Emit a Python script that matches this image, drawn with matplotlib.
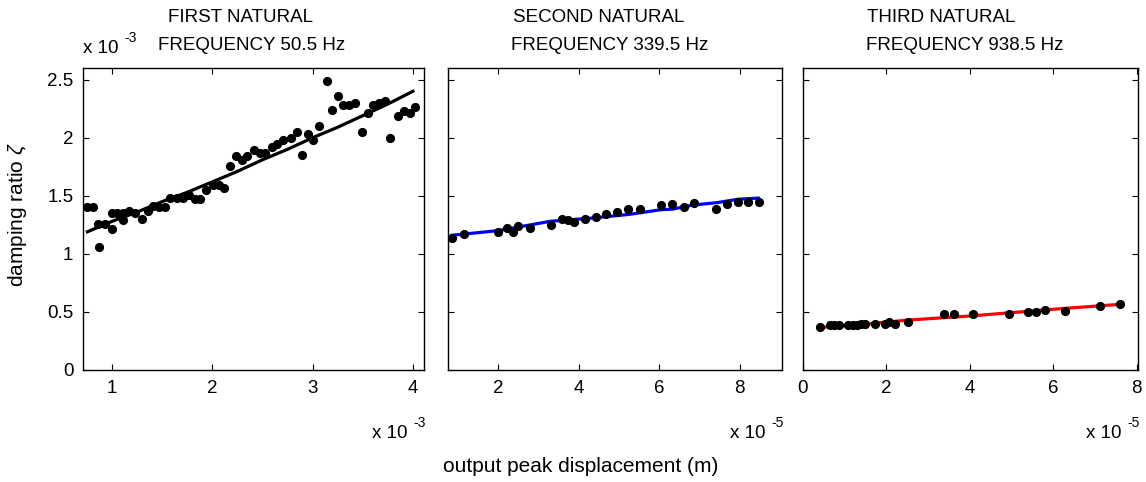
import matplotlib.pyplot as plt

plt.rcParams['font.family'] = 'Liberation Sans'
plt.rcParams['mathtext.fontset'] = 'custom'
plt.rcParams['mathtext.rm'] = 'Liberation Sans'
plt.rcParams['mathtext.it'] = 'Liberation Sans:italic'

# panel 1 (x in 1e-3 m, y in 1e-3)
x1 = [0.754, 0.814, 0.87, 0.86, 0.93, 1.0, 1.0, 1.05, 1.11, 1.11, 1.17, 1.23, 1.30,
      1.355, 1.41, 1.47, 1.53, 1.58, 1.65, 1.71, 1.77, 1.83, 1.88, 1.94, 2.01, 2.07,
      2.12, 2.18, 2.24, 2.30, 2.35, 2.41, 2.47, 2.52, 2.59, 2.645, 2.70, 2.78, 2.84,
      2.89, 2.95, 3.0, 3.06, 3.14, 3.19, 3.25, 3.30, 3.36, 3.42, 3.49, 3.55, 3.60,
      3.66, 3.72, 3.77, 3.85, 3.91, 3.97, 4.02]
y1 = [1.40, 1.40, 1.06, 1.26, 1.26, 1.21, 1.35, 1.35, 1.35, 1.29, 1.37, 1.35, 1.30,
      1.37, 1.41, 1.40, 1.40, 1.48, 1.48, 1.48, 1.51, 1.47, 1.47, 1.55, 1.59, 1.59,
      1.565, 1.76, 1.84, 1.81, 1.84, 1.89, 1.87, 1.87, 1.92, 1.95, 1.98, 1.995, 2.05,
      1.85, 2.03, 1.98, 2.10, 2.49, 2.24, 2.36, 2.28, 2.28, 2.30, 2.05, 2.21, 2.28,
      2.30, 2.32, 2.00, 2.19, 2.23, 2.21, 2.26]
fx1 = [0.754, 1.0, 1.25, 1.5, 1.75, 2.0, 2.25, 2.5, 2.75, 3.0, 3.25, 3.5, 3.75, 4.0]
fy1 = [1.19, 1.28, 1.36, 1.45, 1.53, 1.62, 1.71, 1.81, 1.90, 2.00, 2.09, 2.19, 2.29, 2.40]

# panel 2 (x in 1e-5 m)
x2 = [0.85, 1.14, 2.0, 2.225, 2.36, 2.5, 2.79, 3.31, 3.58, 3.73, 3.875, 4.15, 4.43,
      4.67, 4.96, 5.23, 5.52, 6.04, 6.32, 6.61, 6.875, 7.4, 7.68, 7.96, 8.21, 8.48]
y2 = [1.14, 1.17, 1.19, 1.22, 1.19, 1.24, 1.22, 1.25, 1.30, 1.29, 1.27, 1.30, 1.32,
      1.34, 1.36, 1.385, 1.385, 1.42, 1.43, 1.40, 1.44, 1.39, 1.43, 1.445, 1.445, 1.445]
fx2 = [0.85, 2.0, 3.29, 4.4, 5.26, 6.04, 6.33, 6.83, 7.42, 7.96, 8.46]
fy2 = [1.16, 1.20, 1.28, 1.31, 1.34, 1.38, 1.385, 1.42, 1.44, 1.47, 1.48]

# panel 3 (x in 1e-5 m)
x3 = [0.40, 0.65, 0.74, 0.865, 1.08, 1.19, 1.29, 1.39, 1.49, 1.73, 1.96, 2.06, 2.2,
      2.51, 3.38, 3.62, 4.07, 4.94, 5.40, 5.59, 5.81, 6.27, 7.13, 7.59]
y3 = [0.366, 0.385, 0.385, 0.385, 0.385, 0.385, 0.385, 0.40, 0.40, 0.40, 0.40, 0.41,
      0.395, 0.415, 0.485, 0.485, 0.485, 0.48, 0.50, 0.50, 0.515, 0.51, 0.55, 0.565]
fx3 = [0.40, 1.5, 2.52, 4.0, 6.25, 7.59]
fy3 = [0.366, 0.395, 0.43, 0.465, 0.53, 0.565]

titles = [("FIRST NATURAL", "FREQUENCY 50.5 Hz"),
          ("SECOND NATURAL", "FREQUENCY 339.5 Hz"),
          ("THIRD NATURAL", "FREQUENCY 938.5 Hz")]

W, H = 1146, 482
fig = plt.figure(figsize=(W / 100, H / 100), dpi=100)

lefts = [83, 448, 803]
widths = [341, 334, 335]
top, bottom = 68, 370
xlims = [(0.71, 4.11), (0.75, 9.05), (0, 8.03)]
xticks = [[1, 2, 3, 4], [2, 4, 6, 8], [0, 2, 4, 6, 8]]
data = [(x1, y1, fx1, fy1, 'black'), (x2, y2, fx2, fy2, 'blue'), (x3, y3, fx3, fy3, 'red')]
title_x = [(168, 158), (513, 511), (867, 866)]
exp_lbl = ["-3", "-5", "-5"]
fs = 13.5


def px_text(x, y, s, **kw):
    return fig.text(x / W, 1 - y / H, s, **kw)


def power_label(x, y, e):
    # "x 10" with a raised exponent, MATLAB style
    px_text(x, y, "x 10", fontsize=fs, va='baseline')
    px_text(x + 41, y - 11, e, fontsize=10, va='baseline')


for i in range(3):
    ax = fig.add_axes([lefts[i] / W, 1 - bottom / H, widths[i] / W, (bottom - top) / H])
    xs, ys, fx, fy, c = data[i]
    ax.plot(fx, fy, color=c, lw=2.3, zorder=2)
    ax.plot(xs, ys, 'o', color='black', ms=5.6, zorder=3)
    ax.set_xlim(xlims[i])
    ax.set_ylim(0, 2.6)
    ax.set_xticks(xticks[i])
    ax.set_yticks([0, 0.5, 1, 1.5, 2, 2.5])
    ax.tick_params(direction='in', top=True, right=True, length=4, width=0.8,
                   labelsize=fs, pad=7)
    if i == 0:
        ax.set_yticklabels(['0', '0.5', '1', '1.5', '2', '2.5'])
    else:
        ax.set_yticklabels([])
    for s in ax.spines.values():
        s.set_linewidth(1.0)
    px_text(title_x[i][0], 18, titles[i][0], fontsize=fs, va='center')
    px_text(title_x[i][1], 45, titles[i][1], fontsize=fs, va='center')
    right = lefts[i] + widths[i]
    power_label(right - 52, 438, exp_lbl[i])

power_label(83, 53, "-3")
px_text(18, 215, r"damping ratio $\zeta$", fontsize=15, rotation=90,
        ha='center', va='center')
px_text(581, 467, "output peak displacement (m)", fontsize=15,
        ha='center', va='center')

fig.savefig('out.png', dpi=100)
